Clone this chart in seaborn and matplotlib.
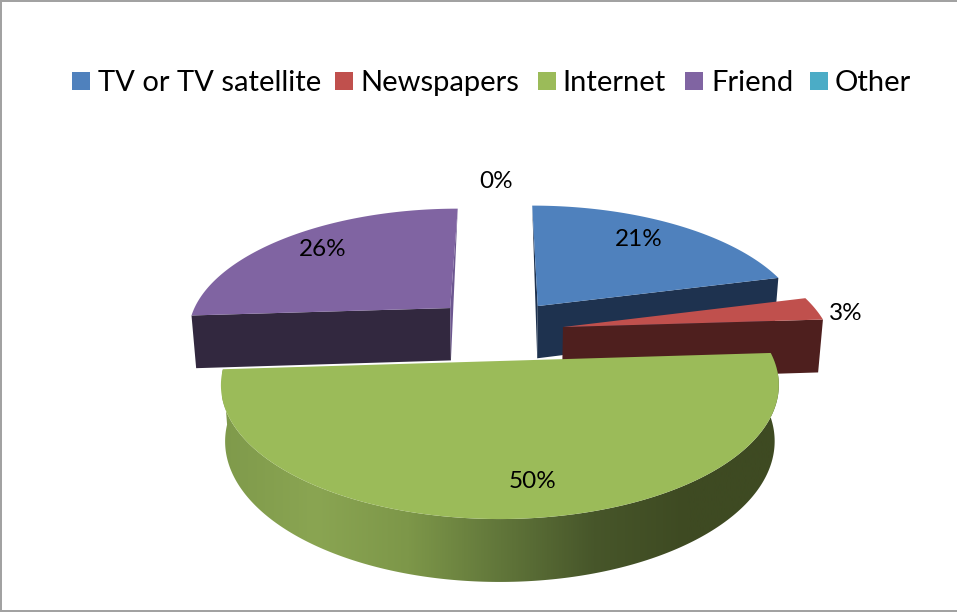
import numpy as np
import matplotlib
matplotlib.use("Agg")
import matplotlib.pyplot as plt
from matplotlib.patches import Rectangle, Polygon
import seaborn as sns

# Survey shares, in percent, clockwise from twelve o'clock
categories = ["TV or TV satellite", "Newspapers", "Internet", "Friend", "Other"]
shares = [21, 3, 50, 26, 0]
colors = ["#4F81BD", "#C0504D", "#9BBB59", "#8064A2", "#4BACC6"]
side_colors = ["#1E324F", "#4E1F1E", None, "#32283F", None]
sliver_colors = ["#1E324F", None, None, "#6D5790", None]

# Ground-plane offset and radii of each exploded slice
offsets_u = [0.145, 0.237, -0.004, -0.200, 0.0]
offsets_v = [0.459, 0.275, 0.000, 0.441, 0.0]
radii_u = [1.03, 1.01, 1.00, 1.006, 1.0]
radii_v = [1.07, 1.03, 1.00, 1.05, 1.0]

# Label and legend placement in pixels
label_xy = [(639, 240), (846, 314), (533, 482), (323, 250), (496, 182)]
legend_swatch_x = [72, 335, 538, 685, 810]
legend_text_x = [98, 360, 562, 711, 835]

# Camera model for the tilted disc
CX, CY = 501.0, 361.0
R, H, K = 274.4, 129.6, 0.18


def project(u, v):
    w = 1 + K * v
    return CX + R * u / w, CY - H * v / w


def extrude(x, y):
    """Lower rim of the disc for a point on its upper face."""
    return CX + (x - CX) * 0.985, y + 55 + 0.05 * (y - CY)


sns.set_theme(style="white")
plt.rcParams["font.family"] = ["Lato", "DejaVu Sans"]
palette = sns.color_palette(colors)

fig = plt.figure(figsize=(9.57, 6.12), dpi=100, facecolor="white")
ax = fig.add_axes([0, 0, 1, 1])
ax.set_xlim(0, 957)
ax.set_ylim(612, 0)
ax.axis("off")

edges = np.cumsum([0] + shares) / 100 * 2 * np.pi

# Slices are painted back to front, so the large front slice goes last
for i in [0, 1, 3, 2]:
    theta = np.linspace(edges[i], edges[i + 1], 240)
    u = offsets_u[i] + radii_u[i] * np.sin(theta)
    v = offsets_v[i] + radii_v[i] * np.cos(theta)
    x, y = project(u, v)
    ax_, ay_ = project(offsets_u[i], offsets_v[i])
    bx, by = extrude(x, y)
    abx, aby = extrude(ax_, ay_)

    if i == 2:
        # Curved rim, shaded from left to right
        rim = Polygon(np.column_stack([np.r_[x, bx[::-1]], np.r_[y, by[::-1]]]),
                      closed=True, transform=ax.transData, fc="none", ec="none")
        ax.add_patch(rim)
        ramp = sns.blend_palette(
            ["#7F9A4B", "#8AA552", "#7D9749", "#61763A", "#47562A", "#3E4A22", "#3E4A22"], 512)
        img = ax.imshow(np.array(ramp)[None, :, :], extent=(222, 780, 612, 0),
                        aspect="auto", interpolation="bilinear", zorder=2)
        img.set_clip_path(rim)
        ax.set_xlim(0, 957)
        ax.set_ylim(612, 0)
    else:
        # Cut face towards the viewer
        cut_idx = 0 if i == 3 else -1
        ax.fill([ax_, x[cut_idx], bx[cut_idx], abx], [ay_, y[cut_idx], by[cut_idx], aby],
                color=side_colors[i], lw=0, zorder=2)
        # Thin visible strip of the other cut face
        if sliver_colors[i]:
            far_idx = -1 if i == 3 else 0
            ax.fill([x[far_idx], abx, ax_], [y[far_idx], aby, ay_],
                    color=sliver_colors[i], lw=0, zorder=2)

    ax.fill(np.r_[ax_, x], np.r_[ay_, y], color=palette[i], lw=0, zorder=2)

for (lx, ly), share in zip(label_xy, shares):
    ax.text(lx, ly, f"{share}%", ha="center", va="center", fontsize=17.5, color="black", zorder=3)

for name, color, sx, tx in zip(categories, palette, legend_swatch_x, legend_text_x):
    ax.add_patch(Rectangle((sx, 72), 18, 18, fc=color, ec="none"))
    ax.text(tx, 91, name, ha="left", va="baseline", fontsize=21, color="black")

# Chart frame: left, top and bottom rules
frame = "#A2A2A2"
ax.add_patch(Rectangle((0, 0), 2, 612, fc=frame, ec="none"))
ax.add_patch(Rectangle((0, 0), 957, 1.5, fc=frame, ec="none"))
ax.add_patch(Rectangle((0, 609.5), 957, 2, fc=frame, ec="none"))

fig.savefig("out.png", dpi=100, facecolor="white")
